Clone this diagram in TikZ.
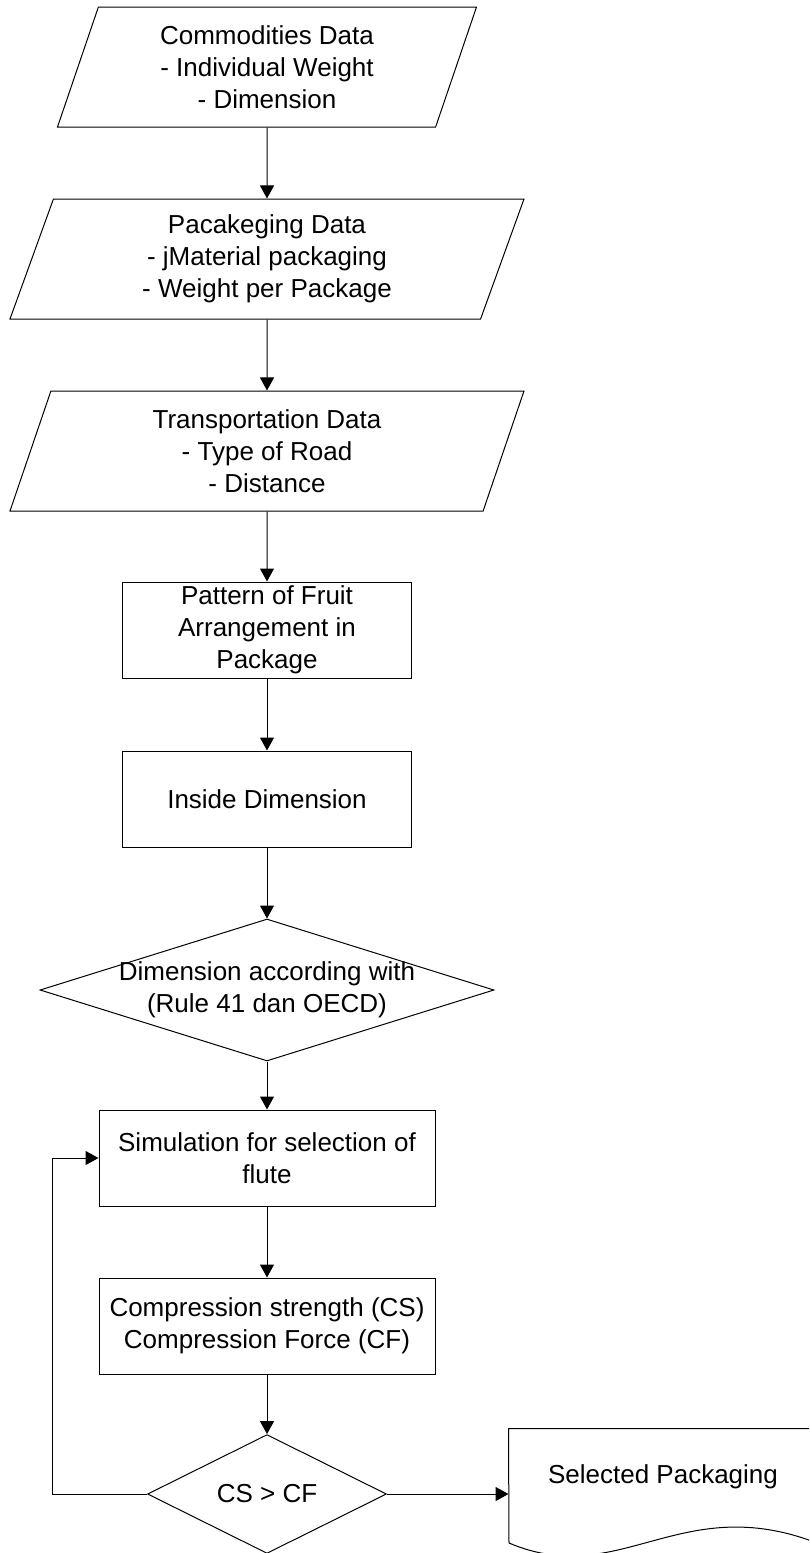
\documentclass[tikz,border=0pt]{standalone}
\usepackage{fontspec}
\setmainfont{Liberation Sans}
\usetikzlibrary{shapes.geometric,arrows.meta}

\begin{document}
\begin{tikzpicture}[x=1pt,y=-1pt,line width=1pt,
    font=\fontsize{26}{32}\selectfont,
    data/.style={draw,trapezium,trapezium left angle=63.8,trapezium right angle=116.2,
      trapezium stretches body,minimum height=120pt,inner sep=0pt,align=center},
    process/.style={draw,rectangle,minimum height=96pt,inner sep=0pt,align=center},
    decision/.style={draw,diamond,inner sep=0pt},
    flow/.style={-{Triangle[length=13pt,width=14pt]}}]
    \useasboundingbox (0,0) rectangle (809,1553);
    \node[data,minimum width=419pt] (comm) at (267,67)
      {Commodities Data\\- Individual Weight\\- Dimension};
    \node[data,minimum width=514pt] (pack) at (267,259)
      {Pacakeging Data\\- jMaterial packaging\\- Weight per Package};
    \node[data,minimum width=514pt] (trans) at (267,451)
      {Transportation Data\\- Type of Road\\- Distance};
    \node[process,minimum width=289pt] (pattern) at (267,630)
      {Pattern of Fruit\\Arrangement in\\Package};
    \node[process,minimum width=289pt] (inside) at (267,799) {Inside Dimension};
    \node[decision,minimum width=454pt,minimum height=142pt,
      label={[align=center]center:Dimension according with\\(Rule 41 dan OECD)}] (dim) at (267,990) {};
    \node[process,minimum width=336pt] (sim) at (267,1158)
      {Simulation for selection of\\flute};
    \node[process,minimum width=336pt] (comp) at (267,1326)
      {Compression strength (CS)\\Compression Force (CF)};
    \node[decision,minimum width=239pt,minimum height=112pt] (cs) at (267,1494) {CS > CF};
    \node[minimum width=308pt,minimum height=96pt,inner sep=0pt] (sel) at (663,1477)
      {Selected Packaging};
    \begin{scope}
      \clip (0,0) rectangle (809,1553);
      \draw (sel.north west) -- (sel.north east) -- (817,1543)
        .. controls (680,1490) and (620,1590) .. (509,1543) -- cycle;
    \end{scope}
    \coordinate (back) at (52,1494);
    \draw[flow] (comm) -- (pack);
    \draw[flow] (pack) -- (trans);
    \draw[flow] (trans) -- (pattern);
    \draw[flow] (pattern) -- (inside);
    \draw[flow] (inside) -- (dim);
    \draw[flow] (dim) -- (sim);
    \draw[flow] (sim) -- (comp);
    \draw[flow] (comp) -- (cs);
    \draw[flow] (cs) -- (sel.west |- cs);
    \draw[flow] (cs.west) -- (back) |- (sim.west);
  \end{tikzpicture}
\end{document}
